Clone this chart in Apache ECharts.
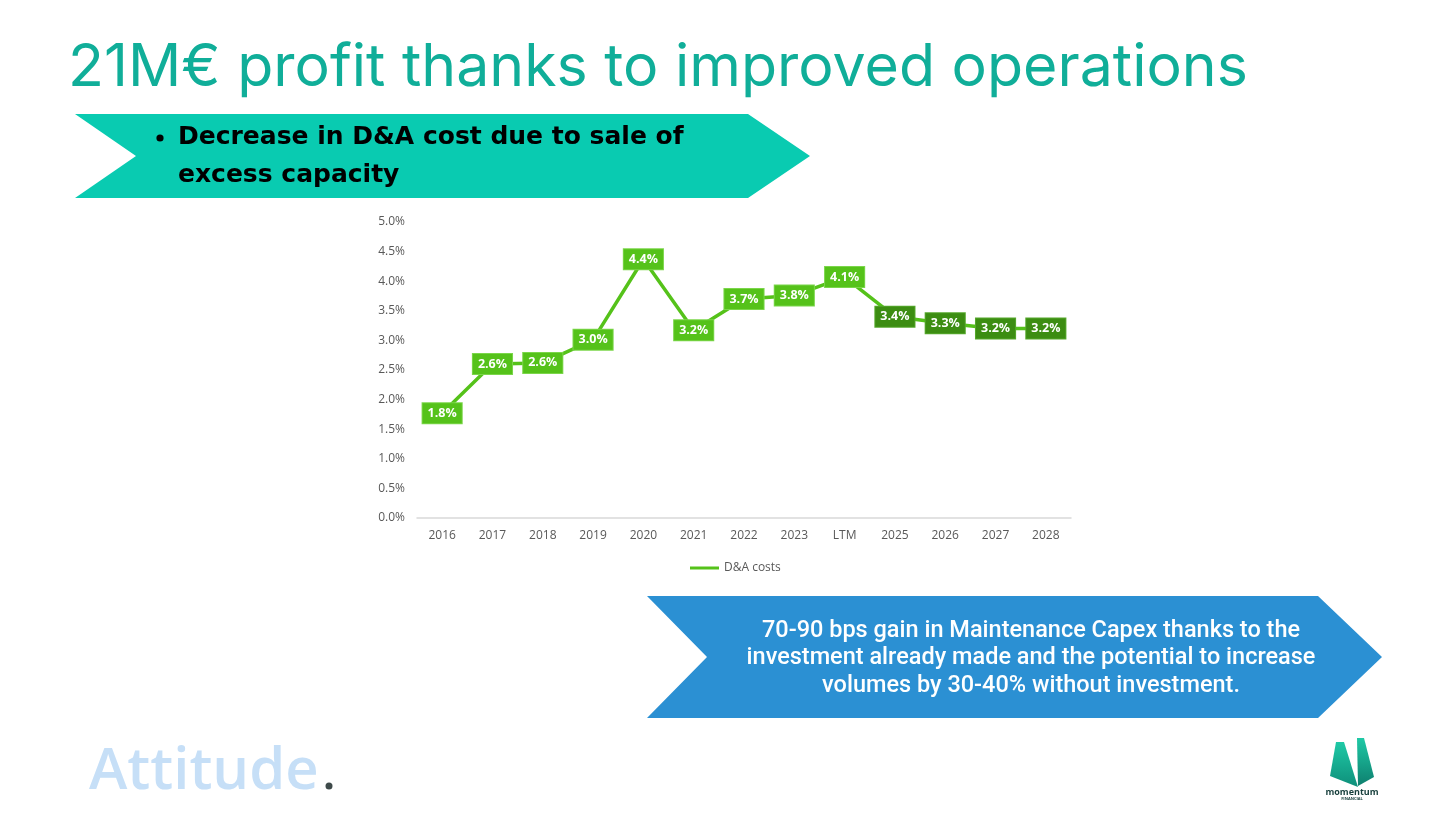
<!DOCTYPE html>
<html>
<head>
<meta charset="utf-8">
<script src="https://cdn.jsdelivr.net/npm/echarts@6/dist/echarts.min.js"></script>
<style>
html,body{margin:0;padding:0;background:#fff;}
#c{width:1456px;height:819px;}
</style>
</head>
<body>
<div id="c"></div>
<script>
const categories = ['2016','2017','2018','2019','2020','2021','2022','2023','LTM','2025','2026','2027','2028'];
const daCosts = [1.77, 2.60, 2.62, 3.01, 4.37, 3.17, 3.70, 3.76, 4.07, 3.40, 3.29, 3.20, 3.20];
const yTicks = { min: 0, max: 5, interval: 0.5 };
const seriesName = 'D&A costs';
const titleText = '21M€ profit thanks to improved operations';
const tealText = ['Decrease in D&A cost due to sale of', 'excess capacity'];
const blueText = ['70-90 bps gain in Maintenance Capex thanks to the', 'investment already made and the potential to increase', 'volumes by 30-40% without investment.'];

const lightGreen = '#55C21A';
const darkGreen = '#3C8D12';
const ltmIndex = categories.indexOf('LTM');

const data = daCosts.map((v, i) => {
  const projected = i > ltmIndex;
  return {
    value: v,
    label: {
      backgroundColor: projected ? darkGreen : lightGreen,
      borderColor: projected ? '#56A82C' : '#7BD64A'
    }
  };
});

const chart = echarts.init(document.getElementById('c'));
chart.setOption({
  backgroundColor: '#ffffff',
  animation: false,
  grid: { left: 417, right: 385, top: 222, bottom: 301, containLabel: false },
  xAxis: {
    type: 'category',
    data: categories,
    axisLine: { lineStyle: { color: '#D9D9D9', width: 1.5 } },
    axisTick: { show: false },
    axisLabel: { color: '#595959', fontFamily: 'Open Sans', fontSize: 12, margin: 12 }
  },
  yAxis: {
    type: 'value',
    min: yTicks.min, max: yTicks.max, interval: yTicks.interval,
    axisLine: { show: false },
    axisTick: { show: false },
    splitLine: { show: false },
    axisLabel: { color: '#595959', fontFamily: 'Open Sans', fontSize: 12, margin: 12,
      formatter: v => v.toFixed(1) + '%' }
  },
  legend: {
    left: 685, top: 557,
    itemWidth: 29, itemHeight: 3, itemGap: 4,
    textStyle: { color: '#595959', fontFamily: 'Open Sans', fontSize: 12 },
    data: [{ name: seriesName, icon: 'rect', itemStyle: { color: lightGreen } }]
  },
  series: [{
    name: seriesName,
    type: 'line',
    data: data,
    symbol: 'circle',
    symbolSize: 1,
    showSymbol: true,
    itemStyle: { color: lightGreen },
    lineStyle: { color: lightGreen, width: 3.5 },
    label: {
      show: true,
      position: 'inside',
      color: '#ffffff',
      fontWeight: 'bold',
      fontFamily: 'Open Sans',
      fontSize: 12.5,
      padding: [4, 5, 3, 5],
      borderWidth: 1,
      formatter: p => p.value.toFixed(1) + '%'
    },
    z: 3
  }],
  graphic: [
    { type: 'text', left: 68, top: 39, style: { text: titleText, fill: '#10AE99', font: '400 59px Inter' } },
    { type: 'polygon', shape: { points: [[75,114],[748,114],[810,156],[748,198],[75,198],[136,156]] }, style: { fill: '#09CBB1' } },
    { type: 'circle', shape: { cx: 160, cy: 138, r: 3.6 }, style: { fill: '#000' } },
    { type: 'text', x: 178, y: 137, style: { text: tealText[0], fill: '#000', font: 'bold 25px "DejaVu Sans"', verticalAlign: 'middle' } },
    { type: 'text', x: 178, y: 175, style: { text: tealText[1], fill: '#000', font: 'bold 25px "DejaVu Sans"', verticalAlign: 'middle' } },
    { type: 'polygon', shape: { points: [[647,596],[1318,596],[1382,657],[1318,718],[647,718],[707,657]] }, style: { fill: '#2B90D3' } },
    { type: 'text', x: 1031, y: 631, style: { text: blueText[0], fill: '#fff', font: '500 23.5px Roboto', align: 'center', verticalAlign: 'middle' } },
    { type: 'text', x: 1031, y: 658, style: { text: blueText[1], fill: '#fff', font: '500 23.5px Roboto', align: 'center', verticalAlign: 'middle' } },
    { type: 'text', x: 1031, y: 686, style: { text: blueText[2], fill: '#fff', font: '500 23.5px Roboto', align: 'center', verticalAlign: 'middle' } },
    { type: 'text', x: 89, y: 772, style: { text: 'Attitude', fill: '#C6DFF7', font: '600 58px "Open Sans"', verticalAlign: 'middle' } },
    { type: 'circle', shape: { cx: 329, cy: 786, r: 3.5 }, style: { fill: '#3E4A4A' } },
    { type: 'polygon', shape: { points: [[1336,742],[1344,742],[1358,787],[1330,776]] },
      style: { fill: new echarts.graphic.LinearGradient(0,0,0,1,[{offset:0,color:'#1FC9A6'},{offset:1,color:'#0E8F7A'}]) } },
    { type: 'polygon', shape: { points: [[1357,738],[1364,738],[1374,777],[1358,786]] },
      style: { fill: new echarts.graphic.LinearGradient(0,0,0,1,[{offset:0,color:'#1FC9A6'},{offset:1,color:'#0E7F6E'}]) } },
    { type: 'text', x: 1352, y: 792, style: { text: 'momentum', fill: '#173F3C', font: 'bold 9px "Open Sans"', align: 'center', verticalAlign: 'middle' } },
    { type: 'text', x: 1352, y: 799, style: { text: 'FINANCIAL', fill: '#173F3C', font: 'bold 4px "Open Sans"', align: 'center', verticalAlign: 'middle' } }
  ]
});
</script>
</body>
</html>
